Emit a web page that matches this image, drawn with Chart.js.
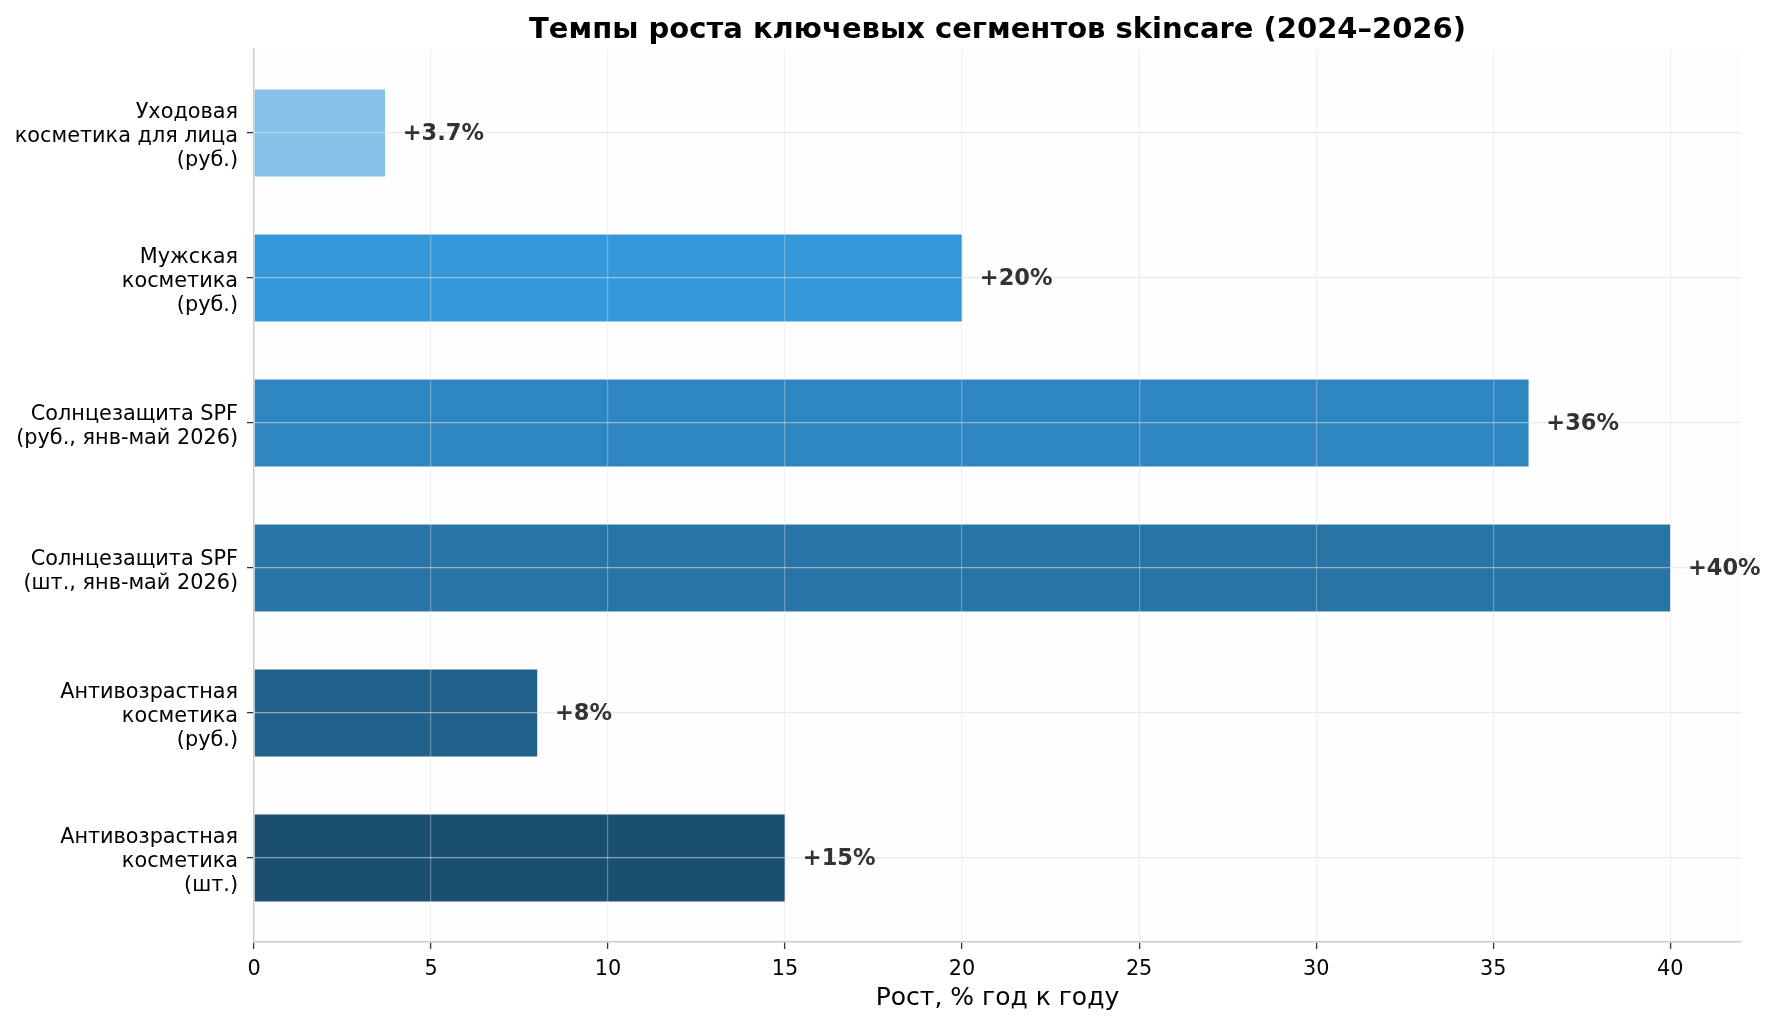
<!DOCTYPE html>
<html>
<head>
<meta charset="utf-8">
<script src="https://cdn.jsdelivr.net/npm/chart.js@4.4.1/dist/chart.umd.min.js"></script>
<style>
  html, body { margin: 0; padding: 0; background: #fff; }
  #wrap { width: 1776px; height: 1026px; }
</style>
</head>
<body>
<div id="wrap"><canvas id="chart" width="1776" height="1026"></canvas></div>
<script>
// segments, top to bottom
const categories = [
    'Уходовая\nкосметика для лица\n(руб.)',
    'Мужская\nкосметика\n(руб.)',
    'Солнцезащита SPF\n(руб., янв-май 2026)',
    'Солнцезащита SPF\n(шт., янв-май 2026)',
    'Антивозрастная\nкосметика\n(руб.)',
    'Антивозрастная\nкосметика\n(шт.)'
];
const growth = [3.7, 20, 36, 40, 8, 15];
const growthLabels = ['+3.7%', '+20%', '+36%', '+40%', '+8%', '+15%'];
const barColors = ['#85c1e9', '#3498db', '#2e86c1', '#2874a6', '#21618c', '#1b4f72'];
const xTicks = [0, 5, 10, 15, 20, 25, 30, 35, 40];

const FONT = 'DejaVu Sans';
Chart.defaults.font.family = FONT;
Chart.defaults.color = '#000';

// plot background
const bgPlugin = {
    id: 'bg',
    beforeDraw(chart) {
        const ctx = chart.ctx, a = chart.chartArea;
        ctx.save();
        ctx.fillStyle = '#fff';
        ctx.fillRect(0, 0, chart.width, chart.height);
        ctx.fillStyle = '#fefefe';
        ctx.fillRect(a.left, a.top, a.right - a.left, a.bottom - a.top);
        ctx.restore();
    }
};

// "+xx%" next to each bar
const valuePlugin = {
    id: 'values',
    afterDraw(chart) {
        const ctx = chart.ctx;
        const xs = chart.scales.x, ys = chart.scales.y;
        ctx.save();
        ctx.font = 'bold 22.5px "' + FONT + '"';
        ctx.fillStyle = '#333';
        ctx.textAlign = 'left';
        ctx.textBaseline = 'middle';
        growth.forEach((v, i) => {
            ctx.fillText(growthLabels[i], xs.getPixelForValue(v + 0.5), ys.getPixelForValue(i) + 1);
        });
        ctx.restore();
    }
};

new Chart(document.getElementById('chart'), {
    type: 'bar',
    data: {
        datasets: [{
            data: growth.map((v, i) => ({ x: v, y: i })),
            backgroundColor: barColors,
            borderWidth: 0,
            barPercentage: 0.6,
            categoryPercentage: 1
        }]
    },
    options: {
        indexAxis: 'y',
        responsive: false,
        animation: false,
        devicePixelRatio: 1,
        layout: { padding: { left: 0, right: 35, top: 0, bottom: 0 } },
        plugins: {
            legend: { display: false },
            tooltip: { enabled: false },
            title: {
                display: true,
                fullSize: false,
                text: 'Темпы роста ключевых сегментов skincare (2024–2026)',
                color: '#000',
                font: { size: 29, weight: 'bold' },
                padding: { top: 13, bottom: 1 }
            }
        },
        scales: {
            x: {
                type: 'linear',
                min: 0,
                max: 42,
                afterBuildTicks: s => { s.ticks = xTicks.map(v => ({ value: v })); },
                afterFit: s => { s.height = 84; },
                grid: { z: 1, color: 'rgba(220,220,220,0.38)', lineWidth: 1.2, tickColor: '#333', tickLength: 7, tickWidth: 1.3 },
                border: { z: 1, color: '#cccccc', width: 1.5 },
                ticks: { font: { size: 20.8 }, color: '#000', padding: 8 },
                title: {
                    display: true,
                    text: 'Рост, % год к году',
                    color: '#000',
                    font: { size: 25 },
                    padding: { top: 0, bottom: 13 }
                }
            },
            y: {
                type: 'linear',
                reverse: true,
                offset: false,
                min: -0.58,
                max: 5.58,
                afterBuildTicks: s => { s.ticks = categories.map((c, i) => ({ value: i })); },
                afterFit: s => { s.width = 254; },
                grid: { z: 1, offset: false, color: 'rgba(220,220,220,0.6)', lineWidth: 1.2, tickColor: '#333', tickLength: 7, tickWidth: 1.3 },
                border: { z: 1, color: '#cccccc', width: 1.5 },
                ticks: {
                    autoSkip: false,
                    callback: v => categories[v].split('\n'),
                    font: { size: 20.8, lineHeight: 1.15 },
                    color: '#000',
                    padding: 9,
                    labelOffset: 3.5
                }
            }
        }
    },
    plugins: [bgPlugin, valuePlugin]
});
</script>
</body>
</html>
